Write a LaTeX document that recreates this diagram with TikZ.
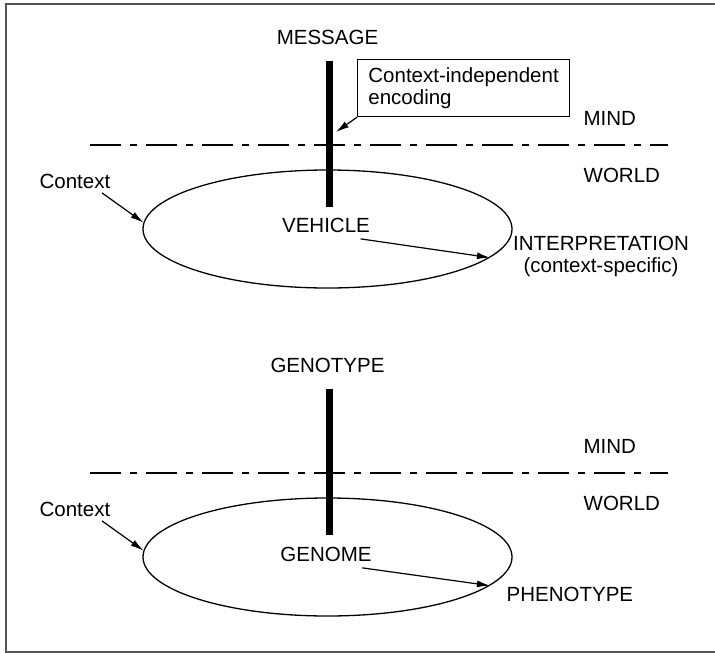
\documentclass[tikz,border=0pt]{standalone}
\usepackage{fontspec}
\setmainfont{Liberation Sans}
\usepackage{tikz}
\usetikzlibrary{shapes,arrows.meta,calc,positioning}

\begin{document}
\begin{tikzpicture}[x=1pt, y=-1pt, line width=1.3pt,
		font=\fontsize{20.5}{22}\selectfont]
		% Colores
		\definecolor{framegray}{RGB}{85, 85, 85}
		
		% Estilos
		\tikzset{
			label/.style={inner sep=0pt, anchor=base west},
			clabel/.style={inner sep=0pt, anchor=base},
			bar/.style={line width=7pt},
			mindline/.style={line width=1.3pt, dash pattern=on 31pt off 9pt on 7pt off 9pt},
			worldset/.style={draw, ellipse, minimum width=369pt, minimum height=118pt, inner sep=0pt},
			encbox/.style={draw, line width=1.2pt, align=left, minimum width=212pt, minimum height=57pt, inner sep=0pt},
			arr/.style={line width=1.2pt, -{Latex[length=13pt, width=7pt]}}
		}
		
		% --- Marco (el borde derecho queda fuera de la imagen) ---
		\useasboundingbox (0,0) rectangle (715,653);
		\begin{scope}
			\clip (0,0) rectangle (715,653);
			\draw[framegray, line width=2pt] (6,4) rectangle (760,652);
		\end{scope}
		
		% ============ Arriba: MESSAGE ============
		\node[clabel] (message) at (327.5,44) {MESSAGE};
		\coordinate (msgTop) at (329.5,61);
		\coordinate (msgBot) at (329.5,207);
		\draw[bar] (msgTop) -- (msgBot);
		
		% Caja de codificacion
		\node[encbox, anchor=north west] (enc) at (357,59) {Context-independent\\encoding};
		\coordinate (encTip) at (336,132);
		\draw[arr] (enc.south west) -- (encTip);
		
		% Linea MIND / WORLD
		\draw[mindline] (90,145) -- (668,145);
		\node[label] (mind1) at (583,125) {MIND};
		\node[label] (world1) at (583,182) {WORLD};
		
		% Elipse (contexto)
		\node[worldset] (ctx1) at (327.5,229) {};
		\node[label] (context1) at (39,188) {Context};
		\draw[arr] ([xshift=-9pt, yshift=-4pt]context1.south east) -- (ctx1.178);
		
		% Vehiculo e interpretacion
		\node[clabel] (vehicle) at (326,232) {VEHICLE};
		\node[clabel, align=center] (interp) at (601,272) {INTERPRETATION\\(context-specific)};
		\draw[arr] ([xshift=-10pt, yshift=-6pt]vehicle.south east) -- (ctx1.350);
		
		% ============ Abajo: GENOTYPE ============
		\node[clabel] (genotype) at (327.5,372) {GENOTYPE};
		\coordinate (genTop) at (329.5,389);
		\coordinate (genBot) at (329.5,535);
		\draw[bar] (genTop) -- (genBot);
		
		% Linea MIND / WORLD
		\draw[mindline] (90,473) -- (668,473);
		\node[label] (mind2) at (583,453) {MIND};
		\node[label] (world2) at (583,510) {WORLD};
		
		% Elipse (contexto)
		\node[worldset] (ctx2) at (327.5,557) {};
		\node[label] (context2) at (39,516) {Context};
		\draw[arr] ([xshift=-9pt, yshift=-4pt]context2.south east) -- (ctx2.178);
		
		% Genoma y fenotipo
		\node[clabel] (genome) at (326,561) {GENOME};
		\node[label] (pheno) at (506,601) {PHENOTYPE};
		\draw[arr] ([xshift=-10pt, yshift=-6pt]genome.south east) -- (ctx2.350);
		
	\end{tikzpicture}
\end{document}
